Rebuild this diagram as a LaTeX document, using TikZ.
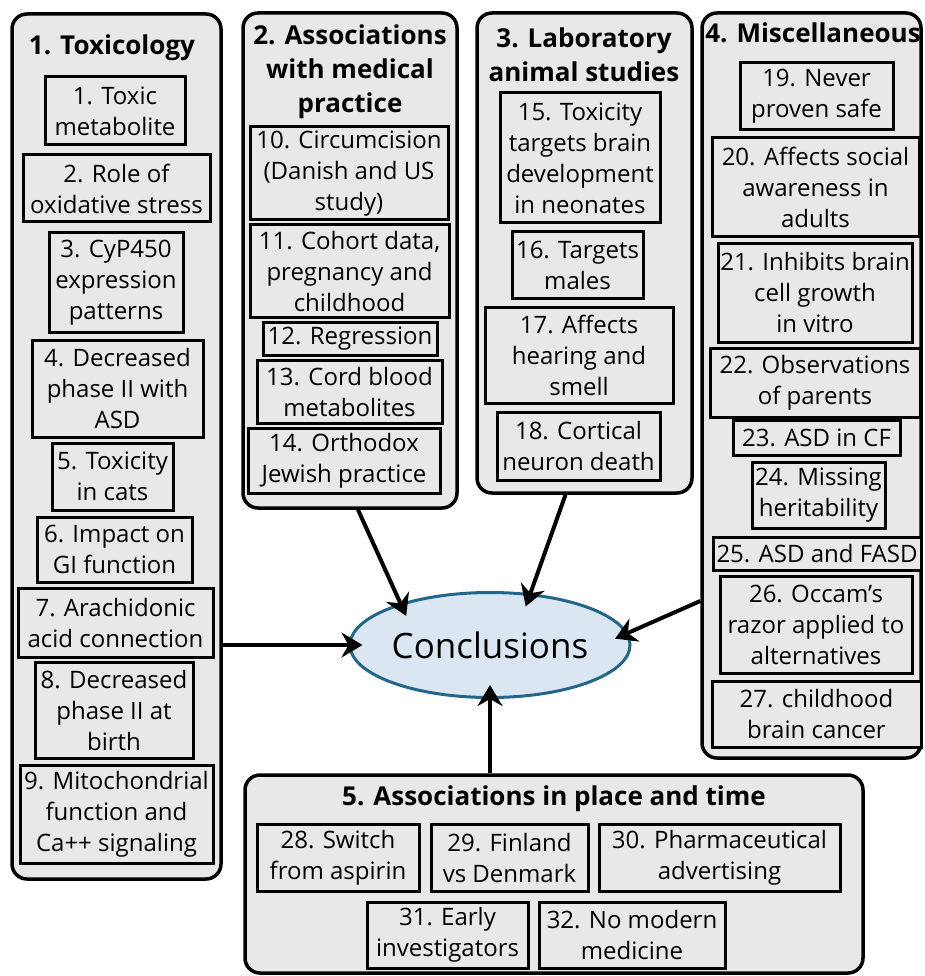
\documentclass[tikz,border=0pt]{standalone}
\usepackage{fontspec}
\setmainfont{Open Sans}
\usetikzlibrary{arrows.meta,shapes.geometric}
\definecolor{boxgray}{HTML}{E8E8E8}
\definecolor{conclfill}{HTML}{DAE7F3}
\definecolor{concldraw}{HTML}{22678A}
\tikzset{
	group/.style={draw, line width=3.5pt, rounded corners=15pt, fill=boxgray, inner sep=0pt},
	gtitle/.style={font=\fontsize{26}{34}\selectfont\bfseries, align=center, inner sep=0pt},
	item/.style={draw, line width=3pt, fill=boxgray, align=center, inner sep=0pt, font=\fontsize{24}{31}\selectfont},
	concl/.style={ellipse, draw=concldraw, line width=3pt, fill=conclfill, inner sep=0pt, font=\fontsize{35}{40}\selectfont},
	arr/.style={line width=4pt, -{Stealth[length=21pt,width=25pt,inset=7pt]}, shorten >=-14pt}
}

\begin{document}
\begin{tikzpicture}[x=1pt, y=-1pt]
			%%%%% START %%%%%
			\useasboundingbox (0,0) rectangle (924,976);
			
			% 1. Toxicology
			\node[group, minimum width=209, minimum height=865] (g1) at (116.5,446.5) {};
			\node[gtitle] (t1) at (112,48) {1. Toxicology};
			\node[item, minimum width=140, minimum height=68] (i1) at (115,111) {1. Toxic\\metabolite};
			\node[item, minimum width=187, minimum height=67] (i2) at (116.5,188.5) {2. Role of\\oxidative stress};
			\node[item, minimum width=134, minimum height=99] (i3) at (116,282.5) {3. CyP450\\expression\\patterns};
			\node[item, minimum width=171, minimum height=97] (i4) at (117.5,388.5) {4. Decreased\\phase II with\\ASD};
			\node[item, minimum width=121, minimum height=67] (i5) at (112.5,476.5) {5. Toxicity\\in cats};
			\node[item, minimum width=155, minimum height=65] (i6) at (114.5,549.5) {6. Impact on\\GI function};
			\node[item, minimum width=195, minimum height=69] (i7) at (115.5,622.5) {7. Arachidonic\\acid connection};
			\node[item, minimum width=158, minimum height=96] (i8) at (114,710) {8. Decreased\\phase II at\\birth};
			\node[item, minimum width=193, minimum height=98] (i9) at (116.5,814) {9. Mitochondrial\\function and\\Ca++ signaling};
			
			% 2. Associations with medical practice
			\node[group, minimum width=214, minimum height=495] (g2) at (350,260.5) {};
			\node[gtitle] (t2) at (350,72) {2. Associations\\with medical\\practice};
			\node[item, minimum width=198, minimum height=93] (i10) at (349,173.5) {10. Circumcision\\(Danish and US\\study)};
			\node[item, minimum width=199, minimum height=92] (i11) at (349.5,271) {11. Cohort data,\\pregnancy and\\childhood};
			\node[item, minimum width=174, minimum height=33] (i12) at (350,338.5) {12. Regression};
			\node[item, minimum width=185, minimum height=63] (i13) at (349.5,391.5) {13. Cord blood\\metabolites};
			\node[item, minimum width=192, minimum height=65] (i14) at (344,460.5) {14. Orthodox\\Jewish practice};
			
			% 3. Laboratory animal studies
			\node[group, minimum width=215, minimum height=480] (g3) at (584.5,253) {};
			\node[gtitle] (t3) at (584,55) {3. Laboratory\\animal studies};
			\node[item, minimum width=160, minimum height=130] (i15) at (580,158) {15. Toxicity\\targets brain\\development\\in neonates};
			\node[item, minimum width=131, minimum height=66] (i16) at (577.5,265) {16. Targets\\males};
			\node[item, minimum width=188, minimum height=96] (i17) at (579,355) {17. Affects\\hearing and\\smell};
			\node[item, minimum width=163, minimum height=68] (i18) at (578.5,446) {18. Cortical\\neuron death};
			
			% 4. Miscellaneous
			\node[group, minimum width=219, minimum height=745] (g4) at (811.5,385.5) {};
			\node[gtitle] (t4) at (813,33) {4. Miscellaneous};
			\node[item, minimum width=153, minimum height=67] (i19) at (816.5,96.5) {19. Never\\proven safe};
			\node[item, minimum width=207, minimum height=99] (i20) at (815.5,187.5) {20. Affects social\\awareness in\\adults};
			\node[item, minimum width=194, minimum height=99] (i21) at (815,292.5) {21. Inhibits brain\\cell growth\\in vitro};
			\node[item, minimum width=210, minimum height=69] (i22) at (815,382.5) {22. Observations\\of parents};
			\node[item, minimum width=167, minimum height=35] (i23) at (816.5,437.5) {23. ASD in CF};
			\node[item, minimum width=133, minimum height=66] (i24) at (818.5,495) {24. Missing\\heritability};
			\node[item, minimum width=208, minimum height=33] (i25) at (817,553.5) {25. ASD and FASD};
			\node[item, minimum width=192, minimum height=97] (i26) at (816,624.5) {26. Occam’s\\razor applied to\\alternatives};
			\node[item, minimum width=209, minimum height=66] (i27) at (816.5,714) {27. childhood\\brain cancer};
			
			% 5. Associations in place and time
			\node[group, minimum width=618, minimum height=198] (g5) at (554,874) {};
			\node[gtitle] (t5) at (554,799) {5. Associations in place and time};
			\node[item, minimum width=162, minimum height=67] (i28) at (338,857.5) {28. Switch\\from aspirin};
			\node[item, minimum width=157, minimum height=67] (i29) at (509.5,857.5) {29. Finland\\vs Denmark};
			\node[item, minimum width=241, minimum height=67] (i30) at (719.5,857.5) {30. Pharmaceutical\\advertising};
			\node[item, minimum width=161, minimum height=66] (i31) at (447.5,935) {31. Early\\investigators};
			\node[item, minimum width=186, minimum height=66] (i32) at (632,935) {32. No modern\\medicine};
			
			% conclusions
			\node[concl, minimum width=280, minimum height=105] (concl) at (490,645) {Conclusions};
			
			\draw[arr] (g1.east |- concl.west) -- (concl.west);
			\draw[arr] ([xshift=8pt]g2.south) -- (concl.155);
			\draw[arr] ([xshift=-19pt]g3.south) -- (concl.52);
			\draw[arr] (g4.west |- 0,601) -- (concl.5);
			\draw[arr] (concl.south |- g5.north) -- (concl.south);
			
			%%%%% END %%%%%
\end{tikzpicture}
\end{document}
